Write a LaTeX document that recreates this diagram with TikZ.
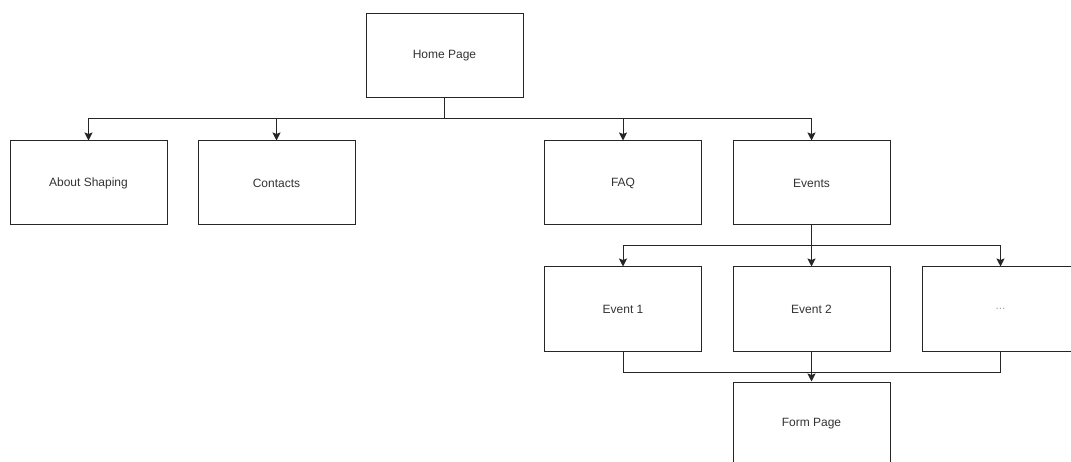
\documentclass[tikz,border=0pt]{standalone}
\usepackage{fontspec}
\setmainfont{Liberation Sans}
\usetikzlibrary{arrows.meta}
\begin{document}
\begin{tikzpicture}[x=1pt,y=-1pt,
  page/.style={draw=black!85, line width=1pt, fill=white, minimum width=157pt,
    minimum height=84pt, inner sep=0pt, font=\fontsize{12}{14}\selectfont, text=black!80},
  link/.style={draw=black!85, line width=1pt,
    -{Stealth[length=8pt,width=8pt,inset=1.5pt]}},
  wire/.style={draw=black!85, line width=1pt}]
\useasboundingbox (0,0) rectangle (1071,462);

% pages
\node[page] (home)    at (444.5,56)  {Home Page};
\node[page] (about)   at (88.5,183)  {About Shaping};
\node[page] (contact) at (276.5,183) {Contacts};
\node[page] (faq)     at (623,183)   {FAQ};
\node[page] (events)  at (811.5,183) {Events};
\node[page] (ev1)     at (623,309)   {Event 1};
\node[page] (ev2)     at (811.5,309) {Event 2};
\node[page, text=black!35] (evn) at (1000.5,309) {...};
\node[page] (form)    at (811.5,424) {Form Page};

% junction points
\coordinate (hj) at (444.5,119);
\coordinate (ej) at (811.5,246);
\coordinate (fj) at (811.5,372);

% home page to its sections
\draw[wire] (home.south) -- (hj);
\draw[link] (hj) -| (about.north);
\draw[link] (hj) -| (contact.north);
\draw[link] (hj) -| (faq.north);
\draw[link] (hj) -| (events.north);

% events to single events
\draw[wire] (events.south) -- (ej);
\draw[link] (ej) -| (ev1.north);
\draw[link] (ej) -- (ev2.north);
\draw[link] (ej) -| (evn.north);

% single events to form page
\draw[wire] (ev1.south) |- (fj);
\draw[wire] (evn.south) |- (fj);
\draw[wire] (ev2.south) -- (fj);
\draw[link] (fj) -- (form.north);
\end{tikzpicture}
\end{document}
